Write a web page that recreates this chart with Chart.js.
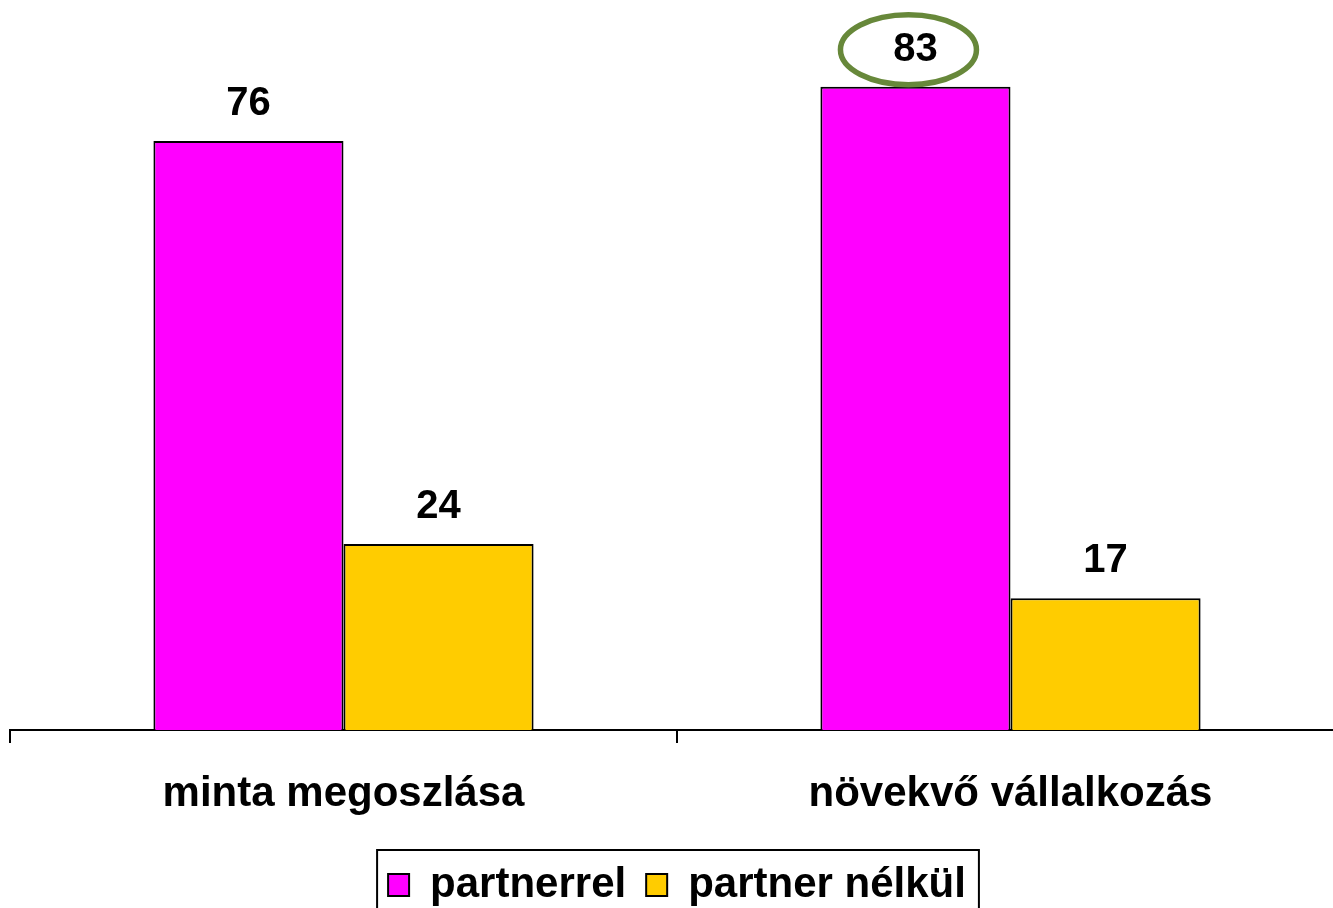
<!DOCTYPE html>
<html>
<head>
<meta charset="utf-8">
<script src="https://cdn.jsdelivr.net/npm/chart.js@4/dist/chart.umd.min.js"></script>
<style>
html,body{margin:0;padding:0;overflow:hidden;background:#fff;width:1333px;height:908px;}
canvas{display:block;}
</style>
</head>
<body>
<canvas id="c" width="1345" height="916"></canvas>
<script>
const categories = ["minta megoszlása", "növekvő vállalkozás"];
const seriesNames = ["partnerrel", "partner nélkül"];
const partnerrel = [76, 83];
const partnerNelkul = [24, 17];
const seriesColors = ["#FF00FF", "#FFCC00"];
const highlight = {dataset: 0, index: 1, color: "#67883A"};

const FONT = "'Liberation Sans', Arial, sans-serif";

const labelPlugin = {
  id: 'valueLabels',
  afterDatasetsDraw(chart) {
    const ctx = chart.ctx;
    ctx.save();
    chart.data.datasets.forEach((ds, di) => {
      const meta = chart.getDatasetMeta(di);
      meta.data.forEach((el, i) => {
        const cy = el.y - 37;
        if (di === highlight.dataset && i === highlight.index) {
          ctx.beginPath();
          ctx.ellipse(el.x - 7, cy, 68, 35, 0, 0, Math.PI * 2);
          ctx.lineWidth = 5.5;
          ctx.strokeStyle = highlight.color;
          ctx.stroke();
        }
        ctx.fillStyle = '#000';
        ctx.font = "bold 40px " + FONT;
        ctx.textAlign = 'center';
        ctx.textBaseline = 'middle';
        ctx.fillText(String(ds.data[i]), el.x, cy);
      });
    });
    ctx.restore();
  },
  afterDraw(chart) {
    const lg = chart.legend;
    if (!lg || !lg.legendHitBoxes || !lg.legendHitBoxes.length) return;
    const hb = lg.legendHitBoxes;
    const first = hb[0], last = hb[hb.length - 1];
    const ctx = chart.ctx;
    ctx.save();
    ctx.strokeStyle = '#000';
    ctx.lineWidth = 2;
    const left = first.left - 11;
    const right = last.left + last.width + 13;
    const top = lg.top + 6;
    ctx.strokeRect(left, top, right - left, chart.height - top + 20);
    ctx.restore();
  }
};

new Chart(document.getElementById('c'), {
  type: 'bar',
  data: {
    labels: categories,
    datasets: [
      {label: seriesNames[0], data: partnerrel, backgroundColor: seriesColors[0], borderColor: '#000', borderWidth: 2},
      {label: seriesNames[1], data: partnerNelkul, backgroundColor: seriesColors[1], borderColor: '#000', borderWidth: 2}
    ]
  },
  options: {
    responsive: false,
    animation: false,
    devicePixelRatio: 1,
    layout: {padding: {left: 10, right: 1, top: 0, bottom: 0}},
    datasets: {bar: {categoryPercentage: 0.57, barPercentage: 1.0}},
    plugins: {
      legend: {
        position: 'bottom',
        labels: {
          font: {family: FONT, size: 42, weight: 'bold'},
          color: '#000',
          boxWidth: 21,
          boxHeight: 22,
          padding: 20
        }
      },
      tooltip: {enabled: false}
    },
    scales: {
      x: {
        grid: {display: true, offset: true, drawOnChartArea: false, drawTicks: true, tickLength: 13, color: '#000', lineWidth: 2},
        border: {display: true, color: '#000', width: 2},
        ticks: {font: {family: FONT, size: 42, weight: 'bold'}, color: '#000', padding: 26, maxRotation: 0},
        afterFit(scale) { scale.height = 114; }
      },
      y: {
        display: false,
        min: 0,
        max: 94.2
      }
    }
  },
  plugins: [labelPlugin]
});
</script>
</body>
</html>
